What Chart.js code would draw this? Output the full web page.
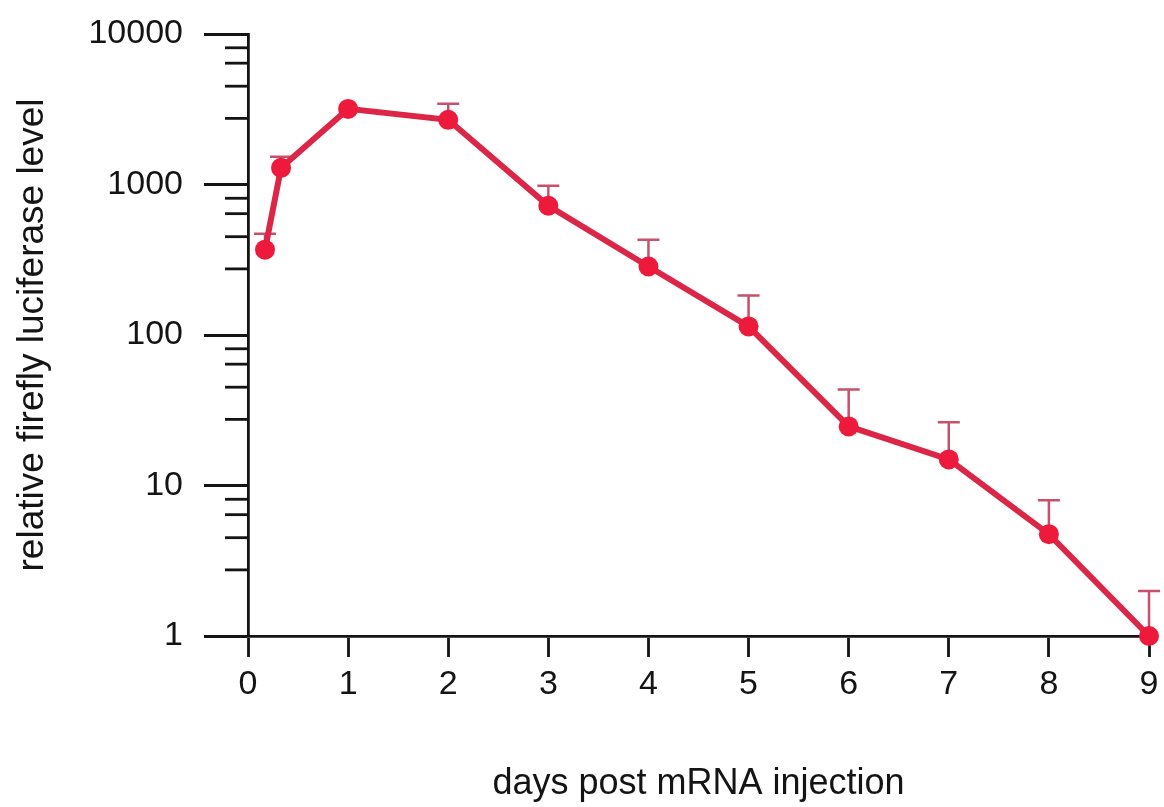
<!DOCTYPE html>
<html>
<head>
<meta charset="utf-8">
<script src="https://cdn.jsdelivr.net/npm/chart.js@4/dist/chart.umd.min.js"></script>
<style>
  html, body { margin: 0; padding: 0; background: #ffffff; }
  #wrap { width: 1164px; height: 807px; }
</style>
</head>
<body>
<div id="wrap"><canvas id="c" width="1164" height="807"></canvas></div>
<script>
// ---- data ----
const days = [0.17, 0.33, 1, 2, 3, 4, 5, 6, 7, 8, 9];
const luciferase = [369, 1290, 3180, 2690, 723, 285, 114, 24.7, 14.9, 4.75, 1.0];
const errorUpper = [471, 1528, null, 3434, 981, 430, 183, 43.5, 26.3, 7.98, 1.99];
const yMajorTicks = [1, 10, 100, 1000, 10000];
const yMinorFactors = [2.75, 4.5, 6.4, 8.1];
const xTicks = [0, 1, 2, 3, 4, 5, 6, 7, 8, 9];
const xTitle = 'days post mRNA injection';
const yTitle = 'relative firefly luciferase level';

const FONT = "'Liberation Sans', Arial, Helvetica, sans-serif";
const LINE_COLOR = '#dc2648';
const POINT_COLOR = '#ee1a3c';
const ERR_COLOR = '#c8506a';
const INK = '#141414';

const errorBarPlugin = {
  id: 'errorBars',
  beforeDatasetsDraw(chart) {
    const xs = chart.scales.x, ys = chart.scales.y, ctx = chart.ctx;
    ctx.save();
    ctx.strokeStyle = ERR_COLOR;
    ctx.lineWidth = 2.5;
    for (let i = 0; i < days.length; i++) {
      if (errorUpper[i] == null) continue;
      const px = xs.getPixelForValue(days[i]);
      const p1 = ys.getPixelForValue(luciferase[i]);
      const p2 = ys.getPixelForValue(errorUpper[i]);
      ctx.beginPath();
      ctx.moveTo(px, p1);
      ctx.lineTo(px, p2);
      ctx.moveTo(px - 11, p2);
      ctx.lineTo(px + 11, p2);
      ctx.stroke();
    }
    ctx.restore();
  }
};

const minorTickPlugin = {
  id: 'minorTicks',
  afterDraw(chart) {
    const ys = chart.scales.y, ctx = chart.ctx;
    const left = chart.chartArea.left;
    ctx.save();
    ctx.strokeStyle = INK;
    ctx.lineWidth = 2.8;
    for (let d = 0; d < yMajorTicks.length - 1; d++) {
      for (const f of yMinorFactors) {
        const py = ys.getPixelForValue(yMajorTicks[d] * f);
        ctx.beginPath();
        ctx.moveTo(left - 23, py);
        ctx.lineTo(left, py);
        ctx.stroke();
      }
    }
    ctx.restore();
  }
};

const points = days.map((d, i) => ({ x: d, y: luciferase[i] }));

new Chart(document.getElementById('c'), {
  type: 'line',
  data: {
    datasets: [{
      data: points,
      borderColor: LINE_COLOR,
      borderWidth: 6,
      backgroundColor: POINT_COLOR,
      pointBackgroundColor: POINT_COLOR,
      pointBorderWidth: 0,
      pointRadius: 10,
      pointHoverRadius: 10,
      tension: 0,
      clip: false
    }]
  },
  options: {
    responsive: false,
    animation: false,
    events: [],
    layout: { padding: { top: 34, right: 15, bottom: 0, left: 0 } },
    plugins: { legend: { display: false }, tooltip: { enabled: false } },
    scales: {
      x: {
        type: 'linear',
        min: 0, max: 9,
        afterFit(scale) { scale.height = 171; scale.paddingLeft = 0; scale.paddingRight = 0; },
        afterBuildTicks(scale) { scale.ticks = xTicks.map(v => ({ value: v })); },
        border: { display: true, color: INK, width: 2.8 },
        grid: { drawOnChartArea: false, drawTicks: true, tickLength: 21, tickColor: INK, tickWidth: 2.8 },
        ticks: { color: INK, font: { family: FONT, size: 34 }, padding: 7, maxRotation: 0 },
        title: { display: true, text: xTitle, color: INK, font: { family: FONT, size: 36 }, padding: { top: 0, bottom: 1 } }
      },
      y: {
        type: 'logarithmic',
        min: 1, max: 10000,
        afterFit(scale) { scale.width = 248; scale.paddingTop = 0; scale.paddingBottom = 0; },
        afterBuildTicks(scale) { scale.ticks = yMajorTicks.map(v => ({ value: v, major: true })); },
        border: { display: true, color: INK, width: 2.8 },
        grid: { drawOnChartArea: false, drawTicks: true, tickLength: 44, tickColor: INK, tickWidth: 2.8 },
        ticks: { color: INK, font: { family: FONT, size: 34 }, padding: 21, callback: v => String(v) },
        title: { display: true, text: yTitle, color: INK, font: { family: FONT, size: 37 }, padding: { top: 11, bottom: 0 } }
      }
    }
  },
  plugins: [errorBarPlugin, minorTickPlugin]
});
</script>
</body>
</html>
